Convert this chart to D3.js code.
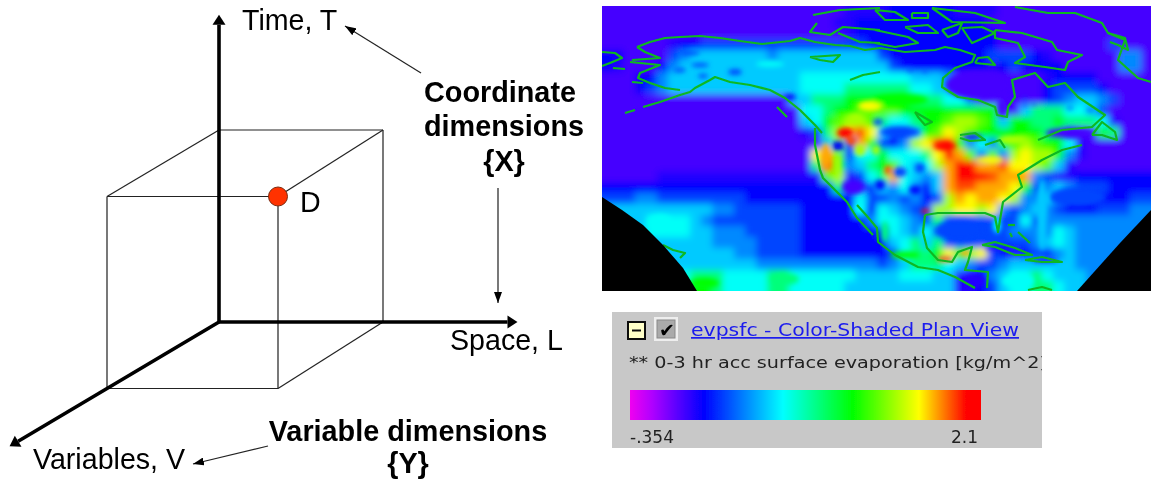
<!DOCTYPE html>
<html><head><meta charset="utf-8">
<script src="https://cdn.jsdelivr.net/npm/d3@7/dist/d3.min.js"></script>
<style>html,body{margin:0;padding:0;background:#fff}svg{display:block}text{font-family:"Liberation Sans",Arial,sans-serif;fill:#000}</style>
</head><body><svg id="c" width="1151" height="480"></svg>
<script>
// ---- diagram data: cube corners in (L,T,V) units
const cubeEdges=[[[0,1,0],[1,1,0]],[[1,1,0],[1,0,0]],[[0,1,0],[0,1,1]],[[1,1,0],[1,1,1]],[[1,0,0],[1,0,1]],
 [[0,1,1],[1,1,1]],[[1,1,1],[1,0,1]],[[0,1,1],[0,0,1]],[[0,0,1],[1,0,1]]];
const axesEnds=[[1.82,0,0],[0,1.6,0],[0,0,1.87]];
const pointD=[1,1,1];
const plainLabels=[["Time, T",242,30],["Space, L",450,350],["Variables, V",33,469],["D",300,212]];
const boldLabels=[["Coordinate",500,102],["dimensions",504,136],["{X}",504,171],["Variable dimensions",408,441],["{Y}",408,473]];
const pointers=[[[421,73],[345,26]],[[498,188],[498,303]],[[268,446],[193,464]]];
// ---- colour bar
const barMin=-0.354, barMax=2.1;
const barStops=[[-0.354,"#f000f0"],[-0.2,"#b000ff"],[0.161,"#0000ff"],[0.716,"#00ffff"],[1.204,"#00ff00"],[1.666,"#ffff00"],[2.0,"#ff0000"],[2.1,"#ff0000"]];
const panelTitle="evpsfc - Color-Shaded Plan View";
const panelSub="** 0-3 hr acc surface evaporation [kg/m^2]";
const barLabels=["-.354","2.1"];
// ---- evaporation field: each symbol is a level index, one row per latitude band
const levels=[0.02,0.09,0.16,0.31,0.46,0.60,0.73,0.97,1.20,1.36,1.51,1.67,1.78,1.90,2.03];
const fieldRows=[
"00000 00000 00000 00000 00111 12222 22111 10000 00000 00000",
"00000 00000 00000 00000 01122 22222 22222 00000 00000 00000",
"00000 00000 00000 00000 00122 22222 22222 20000 00000 00000",
"00000 01223 33333 33333 33332 22222 22222 20000 00000 03000",
"22000 03455 55555 45555 55555 32222 22222 33332 10000 00440",
"21000 24555 55555 55555 55555 53222 22222 12322 22000 00440",
"00022 45555 55555 55566 66666 66655 54000 00000 12222 00000",
"00023 45555 55555 55566 66777 77766 55400 00000 23333 20000",
"00000 00000 00000 00557 77888 88877 76640 00000 23455 43000",
"00000 00000 00000 00066 78899 99888 88888 80057 77665 30000",
"00000 00000 00000 00056 89aa9 76678 89aa9 85887 78777 61000",
"00000 00000 00000 00013 7acdb 53358 9ba98 88888 77100 87000",
"00000 00000 00000 00000 593c8 324ab de846 478a9 88610 00000",
"00000 00000 00000 0000b c9366 86667 bec94 94aba a8410 00000",
"00000 00000 00000 00007 d8457 89656 aceec cdbba 95100 00000",
"00000 11111 11111 11111 9a136 7c654 5ceee dccc4 31122 22222",
"22222 22222 22222 22222 27113 54642 5cddc ccb83 45433 32222",
"33344 33333 33322 22222 22263 34342 3acbc cba44 54222 22233",
"55555 55555 44333 33322 22262 65433 aabba b4345 43222 33344",
"55556 66654 33333 33322 22224 66543 73333 33363 44444 44444",
"55556 66655 44433 33322 22222 36546 33333 33444 46544 44444",
"55555 55555 44443 33322 22222 25675 73333 33334 56544 44444",
"55555 55555 55443 33322 22222 23677 8b9ab 32123 24544 44444",
"55555 55555 55554 44444 44444 34577 76543 34555 55544 44444",
"55555 56677 76666 77666 66655 55666 55112 45667 65554 44444",
"55555 56788 76666 77666 66555 55555 55112 35667 76554 44444"];
// ---- small local features of the same field: centre x, centre y, half width, half height, level index
const patches=[
[690,53,10,2,3],[700,65,9,2,3],[680,70,6,2,3],[703,76,5,2,3],[735,72,7,3,3],[770,64,14,3,6],
[790,97,6,3,2],
[870,106,12,5,11],[855,118,7,4,10],[900,100,28,6,8],
[845,133,8,5,14],[851,141,5,4,13],[838,146,6,5,2],[826,156,4,13,12],[838,165,3,11,10],[860,150,5,6,10],[876,150,4,5,10],[888,170,3.5,4,13],
[900,132,20,5,3],[878,122,5,3,3],[945,146,11,4,14],[972,137,10,2.5,2],[990,160,14,3,11],[1012,140,14,5,10],
[1025,105,2.5,1.5,3],[1034,104,2.5,1.5,3],[1070,108,3.5,1.5,3],[1090,110,3.5,1.5,3],[910,70,3.5,1.5,3],[925,71,3,1.5,3],[1025,99,2.5,1.5,3],
[900,172,7,5,3],[920,168,5,5,3],[880,185,5,5,2],[915,190,6,4,2],[853,187,11,7,0],[925,211,4,2,14],
[905,255,15,3.5,8],[885,232,3.5,11,7],[945,259,8,2.5,13],[965,253,5,2.5,12],[1000,248,14,2,1],[1045,260,13,2,1],[975,281,11,7,1],[997,225,4,8,6],
[1042,215,5,36,5],[1018,281,16,7,6],[1078,197,28,10,3],[705,283,14,5,8],[785,279,14,6,7],[660,222,12,8,6],
[960,230,24,10,3],[978,85,33,14,0],[1002,108,4,9,0],[1070,133,24,5,0],[858,208,3.5,3.5,6]];
// ---- coast lines and masked-out corners, in map image units
const coasts=[
[[637,47],[650,42],[665,38],[680,37],[700,36],[720,38],[740,41],[762,44],[790,41],[800,38],[815,42],[835,45],[850,46],[865,50],[880,48],[905,52],[935,50],[945,47],[960,50],[975,55],[972,62],[955,68],[943,78],[942,87],[958,97],[978,100],[995,107],[997,115],[1007,117],[1008,107],[1015,97],[1012,80],[1035,73],[1048,87],[1065,83],[1078,97],[1105,115],[1092,127],[1062,130],[1038,140]],
[[637,47],[645,52],[660,58],[632,60]],[[630,62],[660,65],[640,73],[638,78],[650,83],[665,88],[680,90]],
[[625,113],[635,110]],[[643,107],[660,102],[680,95],[690,92],[695,88],[710,80],[715,77],[730,82],[750,85],[770,90],[785,98],[800,110],[815,125],[822,133]],
[[777,107],[787,117]],[[632,82],[643,83]],
[[815,128],[815,145],[820,170],[823,178],[833,188],[847,202],[857,218],[873,235]],[[857,205],[866,215],[877,228],[878,242],[895,255],[918,267],[938,270],[955,277],[975,288]],
[[925,215],[938,213],[958,213],[985,213],[995,217],[998,232],[1003,202],[1022,187],[1018,175],[1042,160],[1062,150],[1082,145]],
[[925,215],[923,232],[927,248],[938,260],[952,262],[958,252],[972,247],[968,262],[965,270],[988,272],[987,288]],
[[1015,7],[1048,13],[1075,13],[1102,23],[1108,33],[1125,40],[1118,60],[1138,78],[1151,82]],
[[1108,33],[1125,38],[1128,50],[1118,45],[1110,42]],
[[995,30],[1022,33],[1052,42],[1057,50],[1082,55],[1068,62],[1065,70],[1045,67],[1015,63],[1025,57],[1018,43],[995,38],[995,30]],
[[975,63],[995,65],[988,57],[978,58],[975,63]],
[[875,30],[908,37],[918,43],[895,47],[875,43]],[[875,10],[895,12],[908,20],[885,20],[875,10]],[[912,13],[928,13],[928,18],[912,18],[912,13]],
[[905,27],[928,25],[938,33],[918,33],[905,27]],[[942,30],[962,23],[958,33],[948,37],[942,30]],[[962,28],[982,27],[995,33],[972,43],[962,28]],
[[932,8],[975,13],[1005,23],[952,22],[932,8]],[[813,15],[840,10],[880,8]],[[817,23],[810,32],[830,35],[843,27],[880,30]],[[838,33],[860,42],[880,43]],
[[810,57],[840,55],[833,62],[820,60],[810,57]],[[850,80],[863,75],[880,72]],[[915,112],[932,122],[925,125],[918,117],[915,112]],
[[960,135],[975,133],[985,140],[970,141],[960,138]],[[985,145],[1000,140],[1005,148]],
[[982,245],[995,242],[1015,248],[1032,255],[1015,255],[995,247],[982,245]],[[1025,260],[1042,257],[1062,262],[1042,262],[1025,260]],
[[1008,225],[1015,225]],[[1010,233],[1012,237]],[[1018,232],[1030,243]],[[1028,290],[1042,287],[1052,290]],[[663,245],[673,250],[685,253],[680,258]],
[[1092,135],[1102,122],[1115,132],[1117,140],[1102,135],[1092,135]],[[602,52],[615,53],[622,58],[610,63],[602,66]],[[613,68],[625,69]]];
const maskLeft=[[602,197],[622,210],[643,225],[663,245],[683,268],[697,291],[602,291]];
const maskRight=[[1151,210],[1120,243],[1077,291],[1151,291]];

const svg=d3.select("#c");
const defs=svg.append("defs");
// diagram scales (front face of the cube is drawn slightly wider than the back face)
const sW=d3.scaleLinear().domain([0,1]).range([164,171]);
const sT=d3.scaleLinear().domain([0,1]).range([322,130]);
const sVx=d3.scaleLinear().domain([0,1]).range([219,107]);
const sVy=d3.scaleLinear().domain([0,1]).range([0,66.5]);
const px=p=>sVx(p[2])+sW(p[2])*p[0], py=p=>sT(p[1])+sVy(p[2]);

const mk=(id,w,h)=>{defs.append("marker").attr("id",id).attr("viewBox",`0 0 ${w} ${h}`).attr("refX",w).attr("refY",h/2)
 .attr("markerWidth",w).attr("markerHeight",h).attr("markerUnits","userSpaceOnUse").attr("orient","auto")
 .append("path").attr("d",`M0,0L${w},${h/2}L0,${h}Z`).attr("fill","#000");};
mk("big",14,11); mk("small",11,8);
const bl=defs.append("filter").attr("id","lt"); bl.append("feGaussianBlur").attr("stdDeviation",0.45);

const dg=svg.append("g").attr("filter","url(#lt)");
const axisEnd=e=>{const dx=px(e)-px([0,0,0]),dy=py(e)-py([0,0,0]),n=Math.hypot(dx,dy);return [px(e)-dx/n*10,py(e)-dy/n*10];};
dg.selectAll("line.e").data(cubeEdges).join("line").attr("class","e").attr("x1",e=>px(e[0])).attr("y1",e=>py(e[0])).attr("x2",e=>px(e[1])).attr("y2",e=>py(e[1]))
 .attr("stroke","#222").attr("stroke-width",1.2);
dg.selectAll("line.a").data(axesEnds).join("line").attr("class","a").attr("x1",px([0,0,0])).attr("y1",py([0,0,0])).attr("x2",e=>axisEnd(e)[0]).attr("y2",e=>axisEnd(e)[1])
 .attr("stroke","#000").attr("stroke-width",3.6);
dg.selectAll("path.h").data(axesEnds).join("path").attr("class","h").attr("d",e=>{const [x,y]=[px(e),py(e)],[a,b]=axisEnd(e),ux=(x-a)/10,uy=(y-b)/10;return `M${x},${y}L${a-uy*6.5},${b+ux*6.5}L${a+uy*6.5},${b-ux*6.5}Z`;}).attr("fill","#000");
dg.selectAll("line.p").data(pointers).join("line").attr("class","p").attr("x1",e=>e[0][0]).attr("y1",e=>e[0][1]).attr("x2",e=>e[1][0]).attr("y2",e=>e[1][1])
 .attr("stroke","#222").attr("stroke-width",1.2).attr("marker-end","url(#small)");
dg.append("circle").attr("cx",px(pointD)).attr("cy",py(pointD)).attr("r",9.5).attr("fill","#ff3300").attr("stroke","#7a2a10").attr("stroke-width",1);
dg.selectAll("text.pl").data(plainLabels).join("text").attr("class","pl").attr("x",e=>e[1]).attr("y",e=>e[2]).text(e=>e[0]).attr("font-size",28.6);
dg.selectAll("text.bl").data(boldLabels).join("text").attr("class","bl").attr("x",e=>e[1]).attr("y",e=>e[2]).text(e=>e[0]).attr("font-size",28.8).attr("font-weight",700).attr("text-anchor","middle");

// colour scale shared by bar and field
const color=d3.scaleLinear().domain(barStops.map(s=>s[0])).range(barStops.map(s=>s[1])).interpolate(d3.interpolateRgb).clamp(true);

// map
const mx=d3.scaleLinear().domain([602,1151]).range([602,1151]);
const my=d3.scaleLinear().domain([6,291]).range([6,291]);
const rows=fieldRows.map(r=>r.replace(/ /g,"").split("").map(c=>levels[parseInt(c,16)]));
const gx=d3.scaleBand().domain(d3.range(50)).range([602,1152]);
const gy=d3.scaleBand().domain(d3.range(26)).range([6,292]);
defs.append("clipPath").attr("id","mapclip").append("rect").attr("x",602).attr("y",6).attr("width",549).attr("height",285);
const f=defs.append("filter").attr("id","soft").attr("x",-0.05).attr("y",-0.05).attr("width",1.1).attr("height",1.1);
f.append("feGaussianBlur").attr("stdDeviation",3.5);
const f2=defs.append("filter").attr("id","soft2").attr("filterUnits","userSpaceOnUse").attr("x",560).attr("y",0).attr("width",600).attr("height",300);
f2.append("feGaussianBlur").attr("stdDeviation",2.6);
const m=svg.append("g").attr("clip-path","url(#mapclip)");
m.append("rect").attr("x",602).attr("y",6).attr("width",549).attr("height",285).attr("fill",color(levels[0]));
const mf=m.append("g").attr("filter","url(#soft)");
rows.forEach((r,j)=>{mf.selectAll(null).data(r).join("rect").attr("x",(v,i)=>gx(i)-(i==0?30:0)).attr("y",gy(j)-(j==0?30:0))
 .attr("width",(v,i)=>gx.bandwidth()+(i==0?30:0)+(i==49?30:0)+.5).attr("height",gy.bandwidth()+(j==0||j==25?30:0)+.5).attr("fill",v=>color(v));});
m.append("g").attr("filter","url(#soft2)").selectAll("ellipse").data(patches).join("ellipse")
 .attr("cx",p=>mx(p[0])).attr("cy",p=>my(p[1])).attr("rx",p=>p[2]).attr("ry",p=>p[3]).attr("fill",p=>color(levels[p[4]]));
const line=d3.line().x(p=>mx(p[0])).y(p=>my(p[1]));
m.append("g").attr("filter","url(#lt)").selectAll("path").data(coasts).join("path").attr("d",line).attr("fill","none").attr("stroke","#10b820").attr("stroke-width",2.2).attr("stroke-linejoin","round");
m.selectAll("path.mask").data([maskLeft,maskRight]).join("path").attr("class","mask").attr("d",p=>line(p)+"Z").attr("fill","#000");

// panel
const pg=svg.append("g").attr("filter","url(#lt)");
pg.append("rect").attr("x",612).attr("y",312).attr("width",430).attr("height",136).attr("fill","#c8c8c8");
defs.append("clipPath").attr("id","pclip").append("rect").attr("x",612).attr("y",312).attr("width",430).attr("height",136);
pg.append("rect").attr("x",628).attr("y",322).attr("width",17).attr("height",17).attr("fill","#ffffc8").attr("stroke","#111").attr("stroke-width",2);
pg.append("rect").attr("x",632).attr("y",329.5).attr("width",9).attr("height",2).attr("fill","#111");
pg.append("rect").attr("x",654).attr("y",317).attr("width",24).attr("height",24).attr("fill","#eee");
pg.append("rect").attr("x",657).attr("y",320).attr("width",18).attr("height",18).attr("fill","#aaa").attr("stroke","#888");
const dv="DejaVu Sans";
pg.append("text").attr("x",659).attr("y",337).text("\u2714").attr("font-size",19).style("font-family",dv);
const bx=d3.scaleLinear().domain([barMin,barMax]).range([630,981]);
const g=defs.append("linearGradient").attr("id","bar");
barStops.forEach(s=>g.append("stop").attr("offset",(bx(s[0])-630)/351).attr("stop-color",s[1]));
pg.append("rect").attr("x",bx(barMin)).attr("y",390).attr("width",bx(barMax)-bx(barMin)).attr("height",30).attr("fill","url(#bar)");
pg.append("text").attr("x",691).attr("y",336).text(panelTitle).attr("font-size",17).attr("textLength",328).attr("lengthAdjust","spacingAndGlyphs").attr("text-decoration","underline").style("fill","#1a1aee").style("font-family",dv);
pg.append("g").attr("clip-path","url(#pclip)").append("text").attr("x",629).attr("y",368).text(panelSub).attr("font-size",16).attr("textLength",418).attr("lengthAdjust","spacingAndGlyphs").style("fill","#222").style("font-family",dv);
pg.append("text").attr("x",bx(barMin)).attr("y",443).text(barLabels[0]).attr("font-size",17).style("fill","#222").style("font-family",dv);
pg.append("text").attr("x",bx(barMax)-3).attr("y",443).attr("text-anchor","end").text(barLabels[1]).attr("font-size",17).style("fill","#222").style("font-family",dv);
</script></body></html>
